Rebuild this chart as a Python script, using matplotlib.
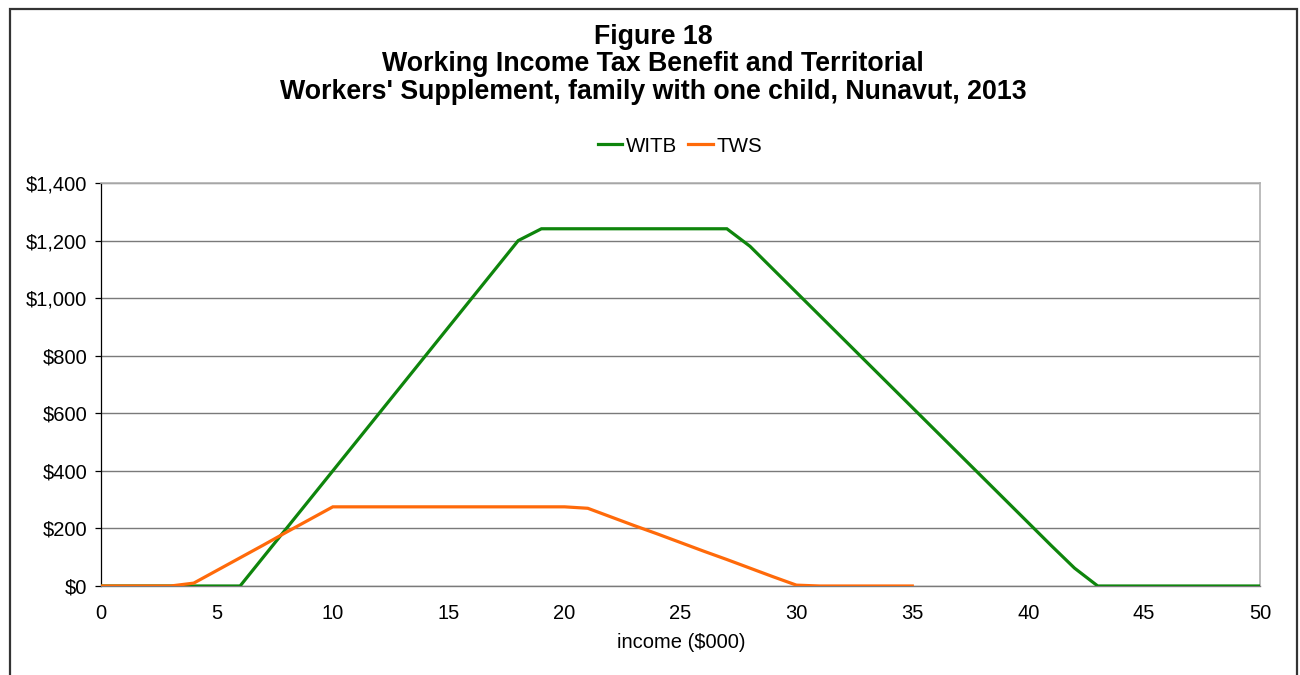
import matplotlib
matplotlib.use("Agg")
import matplotlib.pyplot as plt
from matplotlib.patches import Rectangle

plt.rcParams['font.family'] = ['Liberation Sans', 'DejaVu Sans']

# ---- data ----
witb_income = list(range(0, 51))
witb_values = [0, 0, 0, 0, 0, 0, 0,
               100, 200, 300, 400, 500, 600, 700, 800, 900, 1000, 1100, 1200,
               1241, 1241, 1241, 1241, 1241, 1241, 1241, 1241, 1241,
               1180, 1100, 1020, 940, 860, 780, 700, 620, 540, 460, 380, 300,
               220, 140, 62,
               0, 0, 0, 0, 0, 0, 0, 0]
tws_income = list(range(0, 36))
tws_values = [0, 0, 0, 0, 10, 54, 98, 142, 187, 231,
              275, 275, 275, 275, 275, 275, 275, 275, 275, 275, 275,
              270, 240, 210, 181, 151, 121, 92, 62, 32, 3,
              0, 0, 0, 0, 0]
series_names = ["WITB", "TWS"]
x_ticks = [0, 5, 10, 15, 20, 25, 30, 35, 40, 45, 50]
y_ticks = [0, 200, 400, 600, 800, 1000, 1200, 1400]
y_tick_labels = ["$0", "$200", "$400", "$600", "$800", "$1,000", "$1,200", "$1,400"]
title_lines = ["Figure 18",
               "Working Income Tax Benefit and Territorial",
               "Workers' Supplement, family with one child, Nunavut, 2013"]
x_label = "income ($000)"

W, H = 1300, 675
fig = plt.figure(figsize=(W / 100, H / 100), dpi=100)

# outer border
fig.patches.append(Rectangle((10 / W, -0.05), 1287 / W, 1.05 - 9 / H,
                             transform=fig.transFigure, fill=False,
                             edgecolor='#333333', linewidth=1.6))

ax = fig.add_axes([101 / W, 1 - 586 / H, (1260 - 101) / W, (586 - 183) / H])

green = '#0e850c'
orange = '#ff6a0a'
l1, = ax.plot(witb_income, witb_values, color=green, linewidth=2.3,
              solid_joinstyle='miter', label=series_names[0], zorder=3)
l2, = ax.plot(tws_income, tws_values, color=orange, linewidth=2.3,
              solid_joinstyle='miter', label=series_names[1], zorder=3)

ax.set_xlim(0, 50)
ax.set_ylim(0, 1400)
ax.set_xticks(x_ticks)
ax.set_xticklabels([str(t) for t in x_ticks])
ax.set_yticks(y_ticks)
ax.set_yticklabels(y_tick_labels)
ax.grid(axis='y', color='#7a7a7a', linewidth=1.0)
ax.set_axisbelow(True)

ax.spines['left'].set_color('#000000')
ax.spines['left'].set_linewidth(0.9)
ax.spines['bottom'].set_color('#7a7a7a')
ax.spines['bottom'].set_linewidth(1.0)
for s in ('top', 'right'):
    ax.spines[s].set_color('#b0b0b0')
    ax.spines[s].set_linewidth(1.2)

ax.tick_params(axis='y', length=4, width=0.9, color='#000000', pad=6,
               labelsize=14.5, direction='out')
ax.tick_params(axis='x', length=0, pad=13, labelsize=14.5)

# titles
title_y = [37, 64, 92]
for t, yy in zip(title_lines, title_y):
    fig.text(653 / W, 1 - yy / H, t, ha='center', va='center',
             fontsize=19.3, fontweight='bold', color='#000000')

fig.text(681 / W, 1 - 642 / H, x_label, ha='center', va='center', fontsize=14.5)

fig.legend(handles=[l1, l2], loc='center', bbox_to_anchor=(680 / W, 1 - 146 / H),
           ncol=2, frameon=False, fontsize=14.8, handlelength=1.2,
           handletextpad=0.2, columnspacing=0.5, borderpad=0)

fig.savefig("out.png", dpi=100, facecolor='white')
